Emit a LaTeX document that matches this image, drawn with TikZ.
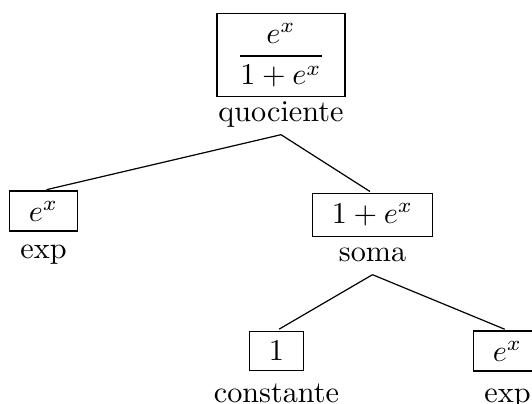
\documentclass[tikz,border=0pt]{standalone}
\usepackage{amsmath}
\usepackage{tikz}
\usetikzlibrary{positioning}
\tikzset{
    expr/.style={
        draw,
        align=center,
        inner xsep=6.5pt,
        inner ysep=3.3pt,
        minimum height=13pt
    },
    oplabel/.style={
        anchor=base,
        inner sep=2pt,
        text depth=2pt
    },
    branch/.style={thin, shorten >=1pt}
}

\begin{document}
\begin{tikzpicture}[x=0.331pt, y=-0.331pt]
        \useasboundingbox (0,0) rectangle (532,404);

        \node[expr] (quo) at (281,55) {$\dfrac{e^x}{1+e^x}$};
        \node[oplabel] (quoL) at (281,122) {quociente};

        \node[expr] (expA) at (43.5,211) {$e^x$};
        \node[oplabel] (expAL) at (43.5,259) {exp};

        \node[expr] (soma) at (372.5,215) {$1+e^x$};
        \node[oplabel] (somaL) at (372.5,262) {soma};

        \node[expr] (const) at (276.5,351) {$1$};
        \node[oplabel] (constL) at (276.5,402) {constante};

        \node[expr] (expB) at (507.5,351) {$e^x$};
        \node[oplabel] (expBL) at (507.5,402) {exp};

        \draw[branch] (quoL.south) -- (expA.north);
        \draw[branch] (quoL.south) -- (soma.north);
        \draw[branch] (somaL.south) -- (const.north);
        \draw[branch] (somaL.south) -- (expB.north);
    \end{tikzpicture}
\end{document}
